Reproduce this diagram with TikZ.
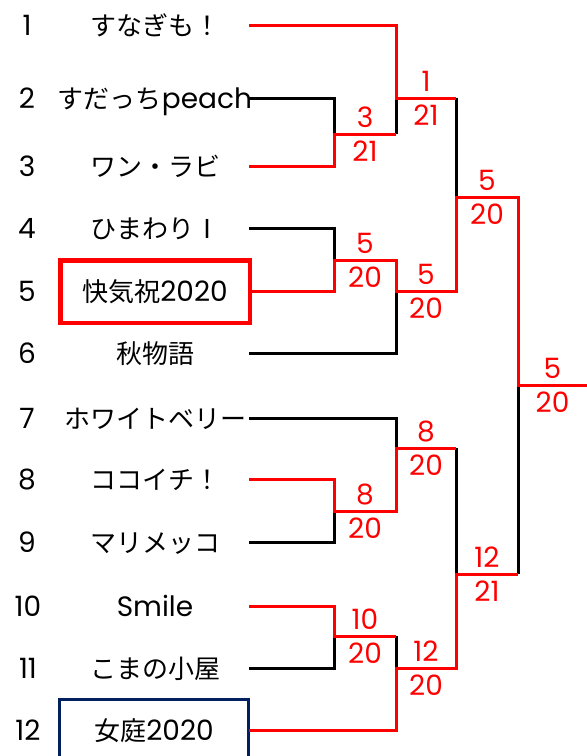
\documentclass[tikz,border=0pt]{standalone}
\usepackage{fontspec}
\setmainfont{Poppins}
\newfontfamily\jpfam{Noto Sans CJK JP}
\newcommand\jpt[1]{{\jpfam\fontsize{26}{30}\selectfont #1}}
\definecolor{navyblue}{HTML}{002060}
\begin{document}
\begin{tikzpicture}[x=1pt,y=-1pt,
  every node/.style={inner sep=0pt, outer sep=0pt, font=\fontsize{28}{32}\selectfont},
  numlab/.style={anchor=base},
  team/.style={text height=23pt, text depth=3pt, anchor=center},
  wl/.style={line width=3pt, black},
  rl/.style={line width=3pt, red},
  scoreup/.style={anchor=base, text=red},
  scoredn/.style={anchor=base, text=red}
]
\clip (0,0) rectangle (587,756);
\fill[white] (0,0) rectangle (587,756);

% seed numbers
\node[numlab] (k1)  at (27,35)  {1};
\node[numlab] (k2)  at (27,108) {2};
\node[numlab] (k3)  at (27,176) {3};
\node[numlab] (k4)  at (27,238) {4};
\node[numlab] (k5)  at (27,301) {5};
\node[numlab] (k6)  at (27,363) {6};
\node[numlab] (k7)  at (27,428) {7};
\node[numlab] (k8)  at (27,489) {8};
\node[numlab] (k9)  at (27,552) {9};
\node[numlab] (k10) at (28,616) {10};
\node[numlab] (k11) at (28,678) {11};
\node[numlab] (k12) at (28,740) {12};

% team names
\node[team] (n1)  at (155,25)  {\jpt{すなぎも！}};
\node[team] (n2)  at (155,98)  {\jpt{すだっち}peach};
\node[team] (n3)  at (155,166) {\jpt{ワン・ラビ}};
\node[team] (n4)  at (155,228) {\jpt{ひまわりⅠ}};
\node[team, draw=red, line width=4.5pt, minimum width=189.5pt, minimum height=62.5pt] (n5) at (155,291.5) {\jpt{快気祝}2020};
\node[team] (n6)  at (155,353) {\jpt{秋物語}};
\node[team] (n7)  at (155,418) {\jpt{ホワイトベリー}};
\node[team] (n8)  at (155,479) {\jpt{ココイチ！}};
\node[team] (n9)  at (155,542) {\jpt{マリメッコ}};
\node[team] (n10) at (155,606) {Smile};
\node[team] (n11) at (155,668) {\jpt{こまの小屋}};
\node[team, draw=navyblue, line width=3pt, minimum width=189pt, minimum height=62pt] (n12) at (154,730.5) {\jpt{女庭}2020};

% line start points
\coordinate (e1)  at (249,25);
\coordinate (e2)  at (249,98);
\coordinate (e3)  at (249,166);
\coordinate (e4)  at (249,228);
\coordinate (e5)  at (249,291);
\coordinate (e6)  at (249,353);
\coordinate (e7)  at (249,418);
\coordinate (e8)  at (249,479);
\coordinate (e9)  at (249,542);
\coordinate (e10) at (249,606);
\coordinate (e11) at (249,668);
\coordinate (e12) at (249,730);

% junctions
\coordinate (c23)   at (334,134);
\coordinate (c45)   at (334,260);
\coordinate (c89)   at (334,511);
\coordinate (c1011) at (334,636);
\coordinate (d1)  at (396,98);
\coordinate (d6)  at (396,291);
\coordinate (d7)  at (396,448);
\coordinate (d12) at (396,668);
\coordinate (f1) at (456,197);
\coordinate (f2) at (456,574);
\coordinate (g)  at (518,385);
\coordinate (fin) at (587,385);

% losing lines (black)
\draw[wl] (e2) -| (c23);
\draw[wl] (e4) -| (c45);
\draw[wl] (e6) -| (d6);
\draw[wl] (e7) -| (d7);
\draw[wl] (e9) -| (c89);
\draw[wl] (e11) -| (c1011);
\draw[wl] (c23 -| d1) -- (d1);
\draw[wl] (c1011 -| d12) -- (d12);
\draw[wl] (d1 -| f1) -- (f1);
\draw[wl] (d7 -| f2) -- (f2);
\draw[wl] (f2 -| g) -- (g);

% winning lines (red)
\draw[rl] (e1) -| (d1) -- (d1 -| f1);
\draw[rl] (e3) -| (c23) -- (c23 -| d1);
\draw[rl] (e5) -| (c45) -| (d6) -- (d6 -| f1) -- (f1) -- (f1 -| g) -- (g) -- (fin);
\draw[rl] (e8) -| (c89) -| (d7) -- (d7 -| f2);
\draw[rl] (e10) -| (c1011) -- (c1011 -| d12);
\draw[rl] (e12) -| (d12) -- (d12 -| f2) -- (f2) -- (f2 -| g);

% scores
\node[scoreup] (s23a) at (365,127) {3};   \node[scoredn] (s23b) at (365,161) {21};
\node[scoreup] (s1a)  at (426,91)  {1};   \node[scoredn] (s1b)  at (426,125) {21};
\node[scoreup] (s45a) at (365,253) {5};   \node[scoredn] (s45b) at (365,287) {20};
\node[scoreup] (s6a)  at (426,284) {5};   \node[scoredn] (s6b)  at (426,318) {20};
\node[scoreup] (sf1a) at (487,190) {5};   \node[scoredn] (sf1b) at (487,224) {20};
\node[scoreup] (sfa)  at (552.5,378) {5}; \node[scoredn] (sfb)  at (552.5,412) {20};
\node[scoreup] (s89a) at (365,504) {8};   \node[scoredn] (s89b) at (365,538) {20};
\node[scoreup] (s7a)  at (426,441) {8};   \node[scoredn] (s7b)  at (426,475) {20};
\node[scoreup] (sf2a) at (487,567) {12};  \node[scoredn] (sf2b) at (487,601) {21};
\node[scoreup] (s10a) at (365,629) {10};  \node[scoredn] (s10b) at (365,663) {20};
\node[scoreup] (s12a) at (426,661) {12};  \node[scoredn] (s12b) at (426,695) {20};
\end{tikzpicture}
\end{document}
